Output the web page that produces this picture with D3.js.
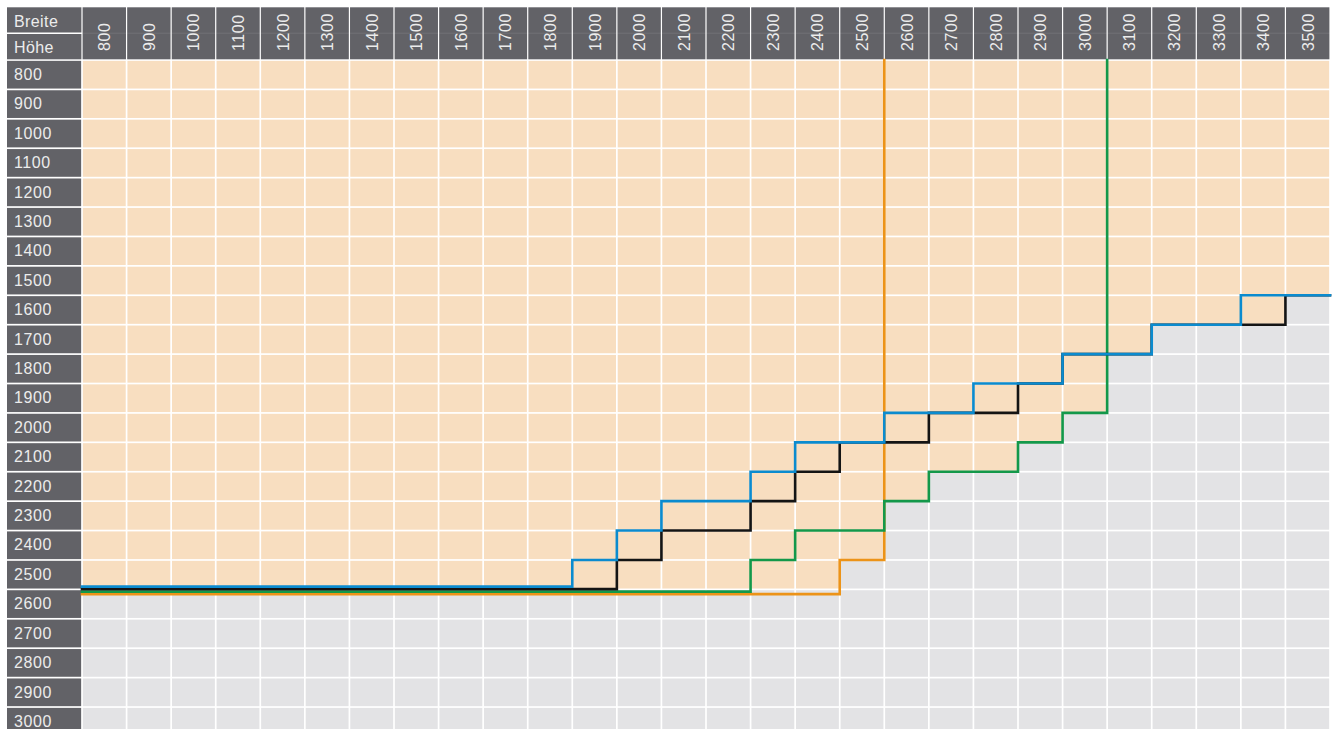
<!DOCTYPE html>
<html>
<head>
<meta charset="utf-8">
<script src="https://cdn.jsdelivr.net/npm/d3@7"></script>
<style>
  html, body { margin: 0; padding: 0; background: #ffffff; }
  svg { display: block; font-family: "Liberation Sans", Arial, Helvetica, sans-serif; }
</style>
</head>
<body>
<svg id="chart" width="1335" height="729"></svg>
<script>
// Width (Breite) columns and height (Höhe) rows, in mm
const breite = [800, 900, 1000, 1100, 1200, 1300, 1400, 1500, 1600, 1700, 1800, 1900, 2000, 2100,
                2200, 2300, 2400, 2500, 2600, 2700, 2800, 2900, 3000, 3100, 3200, 3300, 3400, 3500];
const hoehe = [800, 900, 1000, 1100, 1200, 1300, 1400, 1500, 1600, 1700, 1800, 1900, 2000, 2100,
               2200, 2300, 2400, 2500, 2600, 2700, 2800, 2900, 3000];

// Maximum height per width for each variant (null = width not available)
const blueMax   = [2500, 2500, 2500, 2500, 2500, 2500, 2500, 2500, 2500, 2500, 2500, 2400, 2300, 2200,
                   2200, 2100, 2000, 2000, 1900, 1900, 1800, 1800, 1700, 1700, 1600, 1600, 1500, 1500];
const blackMax  = [2500, 2500, 2500, 2500, 2500, 2500, 2500, 2500, 2500, 2500, 2500, 2500, 2400, 2300,
                   2300, 2200, 2100, 2000, 2000, 1900, 1900, 1800, 1700, 1700, 1600, 1600, 1600, 1500];
const greenMax  = [2500, 2500, 2500, 2500, 2500, 2500, 2500, 2500, 2500, 2500, 2500, 2500, 2500, 2500,
                   2500, 2400, 2300, 2300, 2200, 2100, 2100, 2000, 1900, null, null, null, null, null];
const orangeMax = [2500, 2500, 2500, 2500, 2500, 2500, 2500, 2500, 2500, 2500, 2500, 2500, 2500, 2500,
                   2500, 2500, 2500, 2400, null, null, null, null, null, null, null, null, null, null];

// Stacking order (top of stack first); drawn in reverse so blue ends up on top
const seriesNames  = ["blau", "schwarz", "gruen", "orange"];
const seriesValues = [blueMax, blackMax, greenMax, orangeMax];
const seriesColors = ["#0b8bcf", "#141414", "#13984a", "#ec9318"];

const colors = {
  header: "#626267",
  headerText: "#ececec",
  allowed: "#f8dec0",
  blocked: "#e3e3e5"
};

const svg = d3.select("#chart");

const tableLeft = 7, tableTop = 7;
const gridLeft = 82, gridRight = 1330;
const gridTop = 60, rowStep = 29.41;

const x = d3.scaleBand().domain(breite).range([gridLeft, gridRight]);
const y = d3.scaleBand().domain(hoehe).range([gridTop, gridTop + hoehe.length * rowStep]);
const bw = x.bandwidth(), bh = y.bandwidth();
const gap = 0.85;

// Largest permitted height for every width over all variants
const envelope = breite.map((b, i) => d3.max(seriesValues, s => s[i]));

// ---- grid cells ----
const cells = [];
breite.forEach((b, i) => hoehe.forEach(h => cells.push({ b, h, ok: envelope[i] != null && h <= envelope[i] })));

svg.append("g")
  .selectAll("rect")
  .data(cells)
  .join("rect")
  .attr("x", d => x(d.b) + gap)
  .attr("y", d => y(d.h) + gap)
  .attr("width", bw - 2 * gap)
  .attr("height", bh - 2 * gap)
  .attr("fill", d => d.ok ? colors.allowed : colors.blocked);

// ---- row labels (Höhe) ----
const rowLabels = svg.append("g");
rowLabels.selectAll("rect")
  .data(hoehe)
  .join("rect")
  .attr("x", tableLeft)
  .attr("y", d => y(d) + gap)
  .attr("width", gridLeft - tableLeft - gap)
  .attr("height", bh - 2 * gap)
  .attr("fill", colors.header);
rowLabels.selectAll("text")
  .data(hoehe)
  .join("text")
  .attr("x", 14)
  .attr("y", d => y(d) + bh / 2 + 5.2)
  .attr("fill", colors.headerText)
  .attr("font-size", 16)
  .attr("letter-spacing", 0.6)
  .text(d => d);

// ---- column headers (Breite) ----
const headerBottom = gridTop - 0.7;
const colHeads = svg.append("g");
colHeads.selectAll("rect")
  .data(breite)
  .join("rect")
  .attr("x", d => x(d) + 0.6)
  .attr("y", tableTop + 0.3)
  .attr("width", bw - 1.2)
  .attr("height", headerBottom - tableTop - 0.3)
  .attr("fill", colors.header);
colHeads.append("line")
  .attr("x1", gridLeft).attr("x2", gridRight)
  .attr("y1", 33.2).attr("y2", 33.2)
  .attr("stroke", "rgba(255,255,255,0.1)")
  .attr("stroke-width", 1);
colHeads.selectAll("text")
  .data(breite)
  .join("text")
  .attr("transform", d => `translate(${x(d) + bw / 2 + 6},51) rotate(-90)`)
  .attr("fill", colors.headerText)
  .attr("font-size", 16)
  .attr("letter-spacing", 0.6)
  .text(d => d);

// ---- corner cells ----
const corner = svg.append("g");
corner.append("rect").attr("x", tableLeft).attr("y", tableTop + 0.3)
  .attr("width", gridLeft - tableLeft - 0.6).attr("height", 25.2).attr("fill", colors.header);
corner.append("rect").attr("x", tableLeft).attr("y", 34)
  .attr("width", gridLeft - tableLeft - 0.6).attr("height", headerBottom - 34).attr("fill", colors.header);
corner.append("text").attr("x", 14).attr("y", 26.5)
  .attr("fill", colors.headerText).attr("font-size", 16).attr("letter-spacing", 0.4).text("Breite");
corner.append("text").attr("x", 14).attr("y", 52.5)
  .attr("fill", colors.headerText).attr("font-size", 16).attr("letter-spacing", 0.4).text("Höhe");

// ---- limit lines ----
// Split every series into horizontal runs of equal height
const runs = [];
seriesValues.forEach((vals, s) => {
  let cur = null;
  vals.forEach((v, i) => {
    if (v == null) { cur = null; return; }
    if (cur && cur.level === v && cur.i1 === i - 1) { cur.i1 = i; }
    else { cur = { s, level: v, i0: i, i1: i, offset: 0 }; runs.push(cur); }
  });
});

// Runs lying on the same grid line with overlapping columns are stacked side by side
d3.groups(runs, r => r.level).forEach(([, list]) => {
  const parent = list.map((_, k) => k);
  const find = k => parent[k] === k ? k : (parent[k] = find(parent[k]));
  list.forEach((a, i) => list.forEach((b, j) => {
    if (j > i && Math.max(a.i0, b.i0) <= Math.min(a.i1, b.i1)) parent[find(i)] = find(j);
  }));
  d3.groups(list.map((r, k) => ({ r, g: find(k) })), d => d.g).forEach(([, members]) => {
    const n = members.length;
    if (n < 3) return;
    members.sort((a, b) => a.r.s - b.r.s)
      .forEach((m, rank) => { m.r.offset = (rank - (n - 1) / 2) * 2.5 + 1; });
  });
});

const lineY = r => y(r.level) + bh + r.offset;

const paths = seriesValues.map((vals, s) => {
  const own = runs.filter(r => r.s === s);
  const p = d3.path();
  own.forEach((r, k) => {
    const yy = lineY(r);
    if (k === 0) p.moveTo(x(breite[r.i0]), yy);
    else p.lineTo(x(breite[r.i0]), yy);
    p.lineTo(x(breite[r.i1]) + bw, yy);
  });
  const last = own[own.length - 1];
  if (last.i1 < breite.length - 1) p.lineTo(x(breite[last.i1]) + bw, gridTop);
  return { s, d: p.toString() };
});

svg.append("g")
  .selectAll("path")
  .data(paths.slice().reverse())
  .join("path")
  .attr("class", d => "limit " + seriesNames[d.s])
  .attr("d", d => d.d)
  .attr("fill", "none")
  .attr("stroke", d => seriesColors[d.s])
  .attr("stroke-width", 2.6)
  .attr("stroke-linejoin", "miter")
  .attr("stroke-linecap", "square");
</script>
</body>
</html>
